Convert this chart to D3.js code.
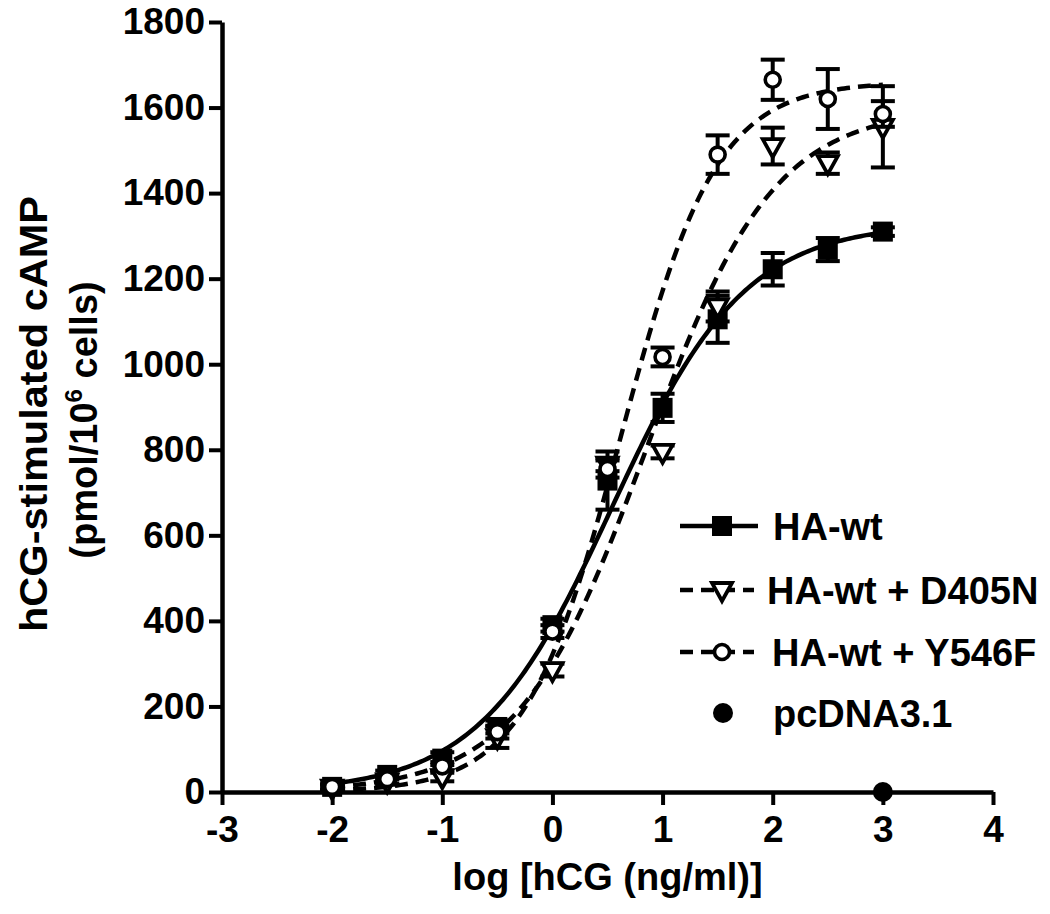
<!DOCTYPE html>
<html>
<head>
<meta charset="utf-8">
<script src="https://cdn.jsdelivr.net/npm/d3@7"></script>
<style>
  html, body { margin: 0; padding: 0; background: #fff; }
  svg { display: block; }
  text { font-family: "Liberation Sans", Arial, Helvetica, sans-serif; font-weight: bold; fill: #000; }
</style>
</head>
<body>
<svg id="chart" width="1050" height="914"></svg>
<script>
// ---------- data ----------
const xTicks = [-3, -2, -1, 0, 1, 2, 3, 4];
const yTicks = [0, 200, 400, 600, 800, 1000, 1200, 1400, 1600, 1800];
const doses = [-2, -1.5, -1, -0.5, 0, 0.5, 1, 1.5, 2, 2.5, 3];

const haWt      = [12, 40, 78, 152, 390, 728, 898, 1105, 1222, 1268, 1310];
const haWtErr   = [8, 10, 15, 15, 15, 68, 33, 55, 38, 27, 10];
const d405n     = [10, 25, 35, 128, 285, 765, 795, 1135, 1510, 1470, 1555];
const d405nErr  = [5, 8, 10, 25, 15, 15, 15, 35, 43, 25, 95];
const y546f     = [12, 30, 60, 140, 375, 755, 1017, 1490, 1665, 1620, 1585];
const y546fErr  = [5, 10, 10, 15, 15, 20, 22, 45, 47, 70, 30];
const pcdnaX    = [3];
const pcdnaY    = [0];

// sigmoidal dose-response fit parameters
const fitNames   = ["HA-wt", "HA-wt + D405N", "HA-wt + Y546F"];
const fitBottom  = [0, 0, 0];
const fitTop     = [1330, 1600, 1660];
const fitLogEC50 = [0.54, 0.85, 0.62];
const fitHill    = [0.72, 0.75, 1.0];

const legendLabels = ["HA-wt", "HA-wt + D405N", "HA-wt + Y546F", "pcDNA3.1"];

// ---------- layout ----------
const svg = d3.select("#chart");
const x = d3.scaleLinear().domain([-3, 4]).range([222, 993]);
const y = d3.scaleLinear().domain([0, 1800]).range([792, 22]);
const FONT = 37;

// ---------- curves ----------
const curveXs = d3.range(-2, 3.0001, 0.025);
const line = d3.line().x(d => x(d[0])).y(d => y(d[1]));
const curveStyles = [null, "13,8", "13,8"];
for (let i = 0; i < fitNames.length; i++) {
  const pts = curveXs.map(v => [v, fitBottom[i] + (fitTop[i] - fitBottom[i]) / (1 + Math.pow(10, (fitLogEC50[i] - v) * fitHill[i]))]);
  svg.append("path")
    .attr("d", line(pts))
    .attr("fill", "none")
    .attr("stroke", "#000")
    .attr("stroke-width", 4.5)
    .attr("stroke-dasharray", curveStyles[i]);
}

// ---------- axes ----------
const xAxis = d3.axisBottom(x).tickValues(xTicks).tickSize(13).tickSizeOuter(0).tickPadding(11).tickFormat(d3.format("d"));
const yAxis = d3.axisLeft(y).tickValues(yTicks).tickSize(13).tickSizeOuter(0).tickPadding(4).tickFormat(d3.format("d"));

const gx = svg.append("g").attr("transform", "translate(0,792)").call(xAxis);
const gy = svg.append("g").attr("transform", "translate(222,0)").call(yAxis);
[gx, gy].forEach(g => {
  g.select(".domain").attr("stroke", "#000").attr("stroke-width", 4.5);
  g.selectAll(".tick line").attr("stroke", "#000").attr("stroke-width", 4);
  g.selectAll(".tick text")
    .attr("fill", "#000")
    .style("font-family", '"Liberation Sans", Arial, sans-serif')
    .style("font-weight", "bold")
    .style("font-size", FONT + "px");
});
gx.selectAll(".tick text").text(d => d < 0 ? "-" + Math.abs(d) : String(d));

// axis titles
svg.append("text")
  .attr("x", x(0.5)).attr("y", 890)
  .attr("text-anchor", "middle")
  .style("font-size", "38px")
  .text("log [hCG (ng/ml)]");

const yt = svg.append("g").attr("transform", "translate(0,414) rotate(-90)");
yt.append("text")
  .attr("x", 0).attr("y", 47)
  .attr("text-anchor", "middle")
  .attr("textLength", 436)
  .attr("lengthAdjust", "spacingAndGlyphs")
  .style("font-size", "39px")
  .text("hCG-stimulated cAMP");
const yt2 = yt.append("text")
  .attr("x", -6).attr("y", 97)
  .attr("text-anchor", "middle")
  .style("font-size", "38px");
yt2.append("tspan").text("(pmol/10");
yt2.append("tspan").attr("dy", -15).style("font-size", "24px").text("6");
yt2.append("tspan").attr("dy", 15).text(" cells)");

// ---------- markers ----------
const CAP = 12;
function errorBars(vals, errs) {
  const g = svg.append("g").attr("stroke", "#000").attr("stroke-width", 4).attr("fill", "none");
  doses.forEach((d, i) => {
    const cx = x(d), yTop = y(vals[i] + errs[i]), yBot = y(Math.max(0, vals[i] - errs[i]));
    g.append("line").attr("x1", cx).attr("x2", cx).attr("y1", yTop).attr("y2", yBot);
    g.append("line").attr("x1", cx - CAP).attr("x2", cx + CAP).attr("y1", yTop).attr("y2", yTop);
    g.append("line").attr("x1", cx - CAP).attr("x2", cx + CAP).attr("y1", yBot).attr("y2", yBot);
  });
}
function square(g, cx, cy) {
  g.append("rect").attr("x", cx - 10).attr("y", cy - 10).attr("width", 20).attr("height", 20).attr("fill", "#000");
}
function triangle(g, cx, cy) {
  const w = 10, h = 9;
  g.append("path")
    .attr("d", `M${cx - w},${cy - h + 2}L${cx + w},${cy - h + 2}L${cx},${cy + h + 2}Z`)
    .attr("fill", "#fff").attr("stroke", "#000").attr("stroke-width", 3.8).attr("stroke-linejoin", "miter");
}
function circle(g, cx, cy) {
  g.append("circle").attr("cx", cx).attr("cy", cy).attr("r", 7.5)
    .attr("fill", "#fff").attr("stroke", "#000").attr("stroke-width", 3.6);
}
function dot(g, cx, cy) {
  g.append("circle").attr("cx", cx).attr("cy", cy).attr("r", 10).attr("fill", "#000");
}

errorBars(haWt, haWtErr);
const gHa = svg.append("g");
doses.forEach((d, i) => square(gHa, x(d), y(haWt[i])));

errorBars(d405n, d405nErr);
const gD = svg.append("g");
doses.forEach((d, i) => triangle(gD, x(d), y(d405n[i])));

errorBars(y546f, y546fErr);
const gY = svg.append("g");
doses.forEach((d, i) => circle(gY, x(d), y(y546f[i])));

const gP = svg.append("g");
pcdnaX.forEach((d, i) => dot(gP, x(d), y(pcdnaY[i])));

// ---------- legend ----------
const legY = [526, 590, 652, 713];
const lg = svg.append("g");
// row 1
lg.append("line").attr("x1", 680).attr("x2", 758).attr("y1", legY[0]).attr("y2", legY[0]).attr("stroke", "#000").attr("stroke-width", 4.5);
square(lg, 722, legY[0]);
// row 2
lg.append("line").attr("x1", 680).attr("x2", 754).attr("y1", legY[1]).attr("y2", legY[1]).attr("stroke", "#000").attr("stroke-width", 4.5).attr("stroke-dasharray", "13,8");
triangle(lg, 722, legY[1]);
// row 3
lg.append("line").attr("x1", 680).attr("x2", 754).attr("y1", legY[2]).attr("y2", legY[2]).attr("stroke", "#000").attr("stroke-width", 4.5).attr("stroke-dasharray", "13,8");
circle(lg, 722, legY[2]);
// row 4
dot(lg, 723, legY[3]);

const legTextX = [773, 767, 772, 773];
legendLabels.forEach((t, i) => {
  lg.append("text").attr("x", legTextX[i]).attr("y", legY[i] + 14).style("font-size", "38px").text(t);
});
</script>
</body>
</html>
